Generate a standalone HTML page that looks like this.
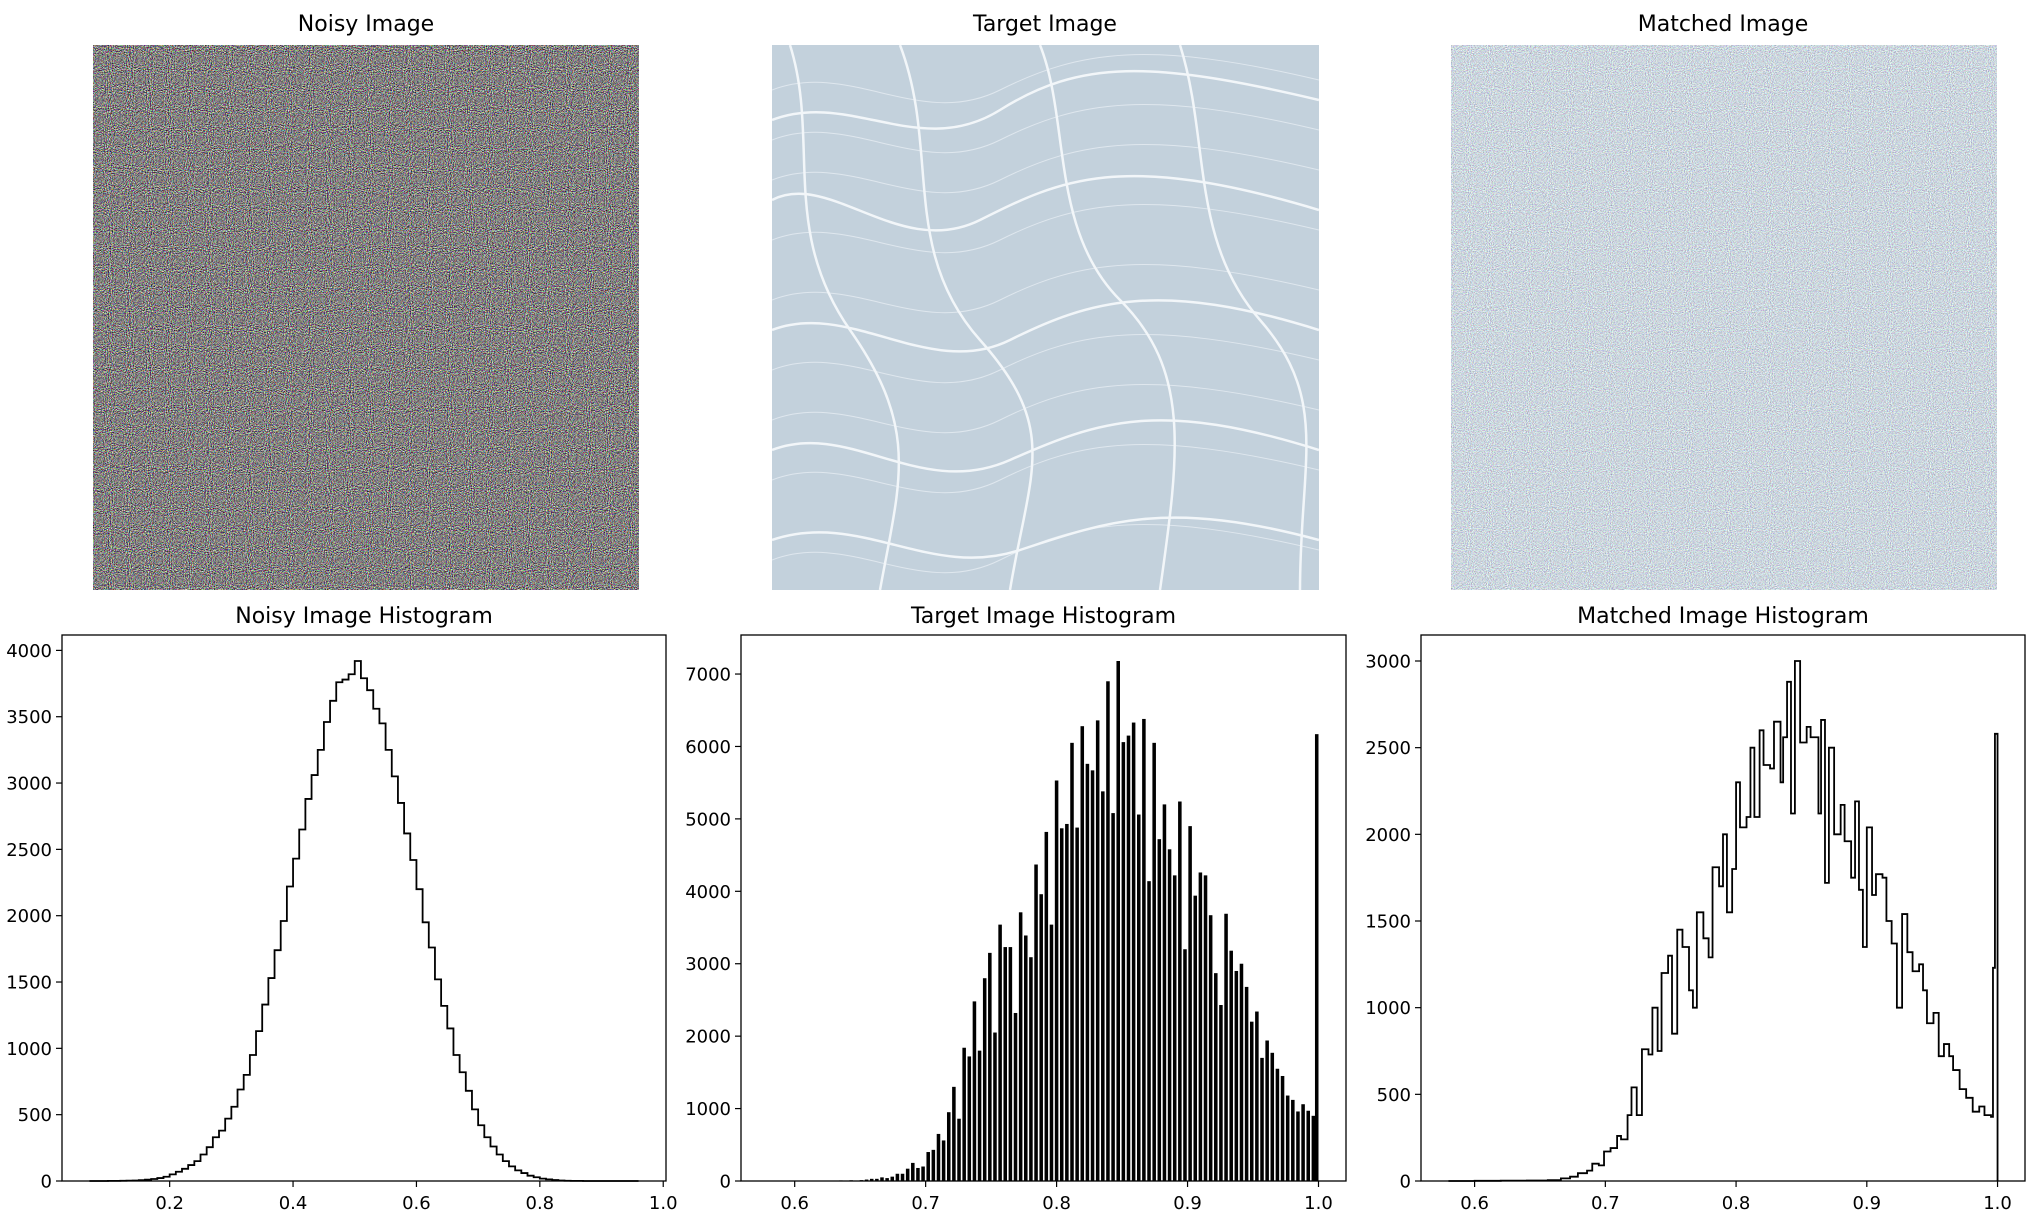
<!DOCTYPE html>
<html><head><meta charset="utf-8">
<style>
html,body{margin:0;padding:0;background:#fff;}
svg{display:block;font-family:"DejaVu Sans","Liberation Sans",sans-serif;}
</style></head>
<body>
<svg id="fig" width="2029" height="1222" viewBox="0 0 2029 1222" xmlns="http://www.w3.org/2000/svg">
<defs>
<filter id="noiseA" x="0" y="0" width="100%" height="100%" color-interpolation-filters="sRGB">
  <feTurbulence type="fractalNoise" baseFrequency="0.95" numOctaves="1" seed="3"/>
  <feColorMatrix type="saturate" values="0.6"/>
  <feComponentTransfer>
    <feFuncR type="linear" slope="2.4" intercept="-0.69"/>
    <feFuncG type="linear" slope="2.4" intercept="-0.70"/>
    <feFuncB type="linear" slope="2.4" intercept="-0.70"/>
    <feFuncA type="linear" slope="0" intercept="1"/>
  </feComponentTransfer>
</filter>
<filter id="noiseB" x="0" y="0" width="100%" height="100%" color-interpolation-filters="sRGB">
  <feTurbulence type="fractalNoise" baseFrequency="0.95" numOctaves="1" seed="7"/>
  <feColorMatrix type="saturate" values="0.5"/>
  <feComponentTransfer>
    <feFuncR type="linear" slope="1.0" intercept="0.30"/>
    <feFuncG type="linear" slope="1.0" intercept="0.34"/>
    <feFuncB type="linear" slope="1.0" intercept="0.37"/>
    <feFuncA type="linear" slope="0" intercept="1"/>
  </feComponentTransfer>
</filter>
<clipPath id="tclip"><rect x="772" y="45" width="547" height="545"/></clipPath>
</defs>

<text x="366" y="31" font-size="22" text-anchor="middle">Noisy Image</text>
<text x="1045" y="31" font-size="22" text-anchor="middle">Target Image</text>
<text x="1723" y="31" font-size="22" text-anchor="middle">Matched Image</text>

<rect x="93" y="45" width="546" height="545" filter="url(#noiseA)"/>
<g clip-path="url(#tclip)">
  <rect x="772" y="45" width="547" height="545" fill="#c3d1dc"/>
  <g fill="none" stroke="#dfe7ee" stroke-width="1">
    <path d="M772 90 C850 60 920 130 1000 90 S1150 40 1319 80"/>
    <path d="M772 140 C850 110 920 180 1000 140 S1150 90 1319 130"/>
    <path d="M772 240 C850 210 920 280 1000 240 S1150 190 1319 230"/>
    <path d="M772 300 C850 270 920 340 1000 300 S1150 250 1319 290"/>
    <path d="M772 370 C850 340 920 410 1000 370 S1150 320 1319 360"/>
    <path d="M772 420 C850 390 920 460 1000 420 S1150 370 1319 410"/>
    <path d="M772 480 C850 450 920 520 1000 480 S1150 430 1319 470"/>
    <path d="M772 560 C850 530 920 600 1000 560 S1150 510 1319 550"/>
    <path d="M772 180 C850 150 920 220 1000 180 S1150 130 1319 170"/>
  </g>
  <g fill="none" stroke="#f2f6f9" stroke-width="2.5">
    <path d="M772 120 C850 90 920 160 1000 110 S1150 60 1319 100"/>
    <path d="M772 200 C830 170 900 260 980 220 S1120 150 1319 210"/>
    <path d="M790 45 C820 140 780 230 850 330 S900 480 880 590"/>
    <path d="M900 45 C940 150 900 250 980 340 S1030 470 1010 590"/>
    <path d="M1040 45 C1070 120 1050 230 1120 300 S1180 450 1160 590"/>
    <path d="M1180 45 C1210 140 1190 240 1260 320 S1300 460 1300 590"/>
    <path d="M772 330 C850 300 930 380 1010 340 S1160 280 1319 330"/>
    <path d="M772 450 C850 420 920 500 1010 460 S1160 400 1319 450"/>
    <path d="M772 540 C860 510 930 580 1020 550 S1170 500 1319 540"/>
  </g>
</g>
<rect x="1451" y="45" width="546" height="545" filter="url(#noiseB)"/>

<g id="charts"></g>
</svg>
<script>
// ---- Noisy histogram data (bin left edges, width 0.01) ----
const noisyEdges = [0.07,0.08,0.09,0.10,0.11,0.12,0.13,0.14,0.15,0.16,0.17,0.18,0.19,0.20,0.21,0.22,0.23,0.24,0.25,0.26,0.27,0.28,0.29,0.30,0.31,0.32,0.33,0.34,0.35,0.36,0.37,0.38,0.39,0.40,0.41,0.42,0.43,0.44,0.45,0.46,0.47,0.48,0.49,0.50,0.51,0.52,0.53,0.54,0.55,0.56,0.57,0.58,0.59,0.60,0.61,0.62,0.63,0.64,0.65,0.66,0.67,0.68,0.69,0.70,0.71,0.72,0.73,0.74,0.75,0.76,0.77,0.78,0.79,0.80,0.81,0.82,0.83,0.84,0.85,0.86,0.87,0.88,0.89,0.90,0.91,0.92,0.93,0.94,0.95];
const noisyCounts = [0,0,0,1,1,2,3,4,6,10,15,22,32,50,70,92,120,150,200,255,330,380,470,560,690,800,950,1130,1330,1530,1740,1960,2220,2430,2650,2880,3060,3250,3460,3620,3760,3780,3820,3920,3790,3700,3560,3450,3250,3050,2850,2620,2420,2200,1950,1760,1520,1320,1150,950,820,680,540,420,330,260,200,150,110,80,60,40,28,18,12,7,4,2,1,1,0,0,0,0,0,0,0,0,0];
const noisyEnd = 0.96;
const noisyXTicks = [0.2,0.4,0.6,0.8,1.0];
const noisyYTicks = [0,500,1000,1500,2000,2500,3000,3500,4000];

// ---- Target histogram data: pixel level k/255 and counts ----
const targetLevels = [148,150,152,155,158,160,162,164,166,167,168,169,170,171,172,173,174,175,176,177,178,179,180,181,182,183,184,185,186,187,188,189,190,191,192,193,194,195,196,197,198,199,200,201,202,203,204,205,206,207,208,209,210,211,212,213,214,215,216,217,218,219,220,221,222,223,224,225,226,227,228,229,230,231,232,233,234,235,236,237,238,239,240,241,242,243,244,245,246,247,248,249,250,251,252,253,254,255];
const targetCounts = [3,2,3,4,5,6,8,10,12,20,30,30,50,40,60,100,100,170,250,180,200,400,430,650,560,950,1300,860,1840,1720,2480,1800,2800,3150,2050,3540,3230,3230,2320,3710,3390,3090,4370,3960,4820,3540,5530,4870,4930,6050,4880,6280,5760,5670,6360,5380,6900,5080,7180,6060,6150,6330,5060,6380,4140,6050,4720,5200,4580,4220,5240,3200,4900,3940,4260,4220,3670,2870,2430,3690,3180,2900,3000,2680,2200,2340,1700,1940,1770,1550,1450,1180,1120,960,1060,970,900,6170];
const targetXTicks = [0.6,0.7,0.8,0.9,1.0];
const targetYTicks = [0,1000,2000,3000,4000,5000,6000,7000];

// ---- Matched histogram data (bin left edges and counts) ----
const matchedEdges = [0.58,0.60,0.62,0.64,0.656,0.666,0.673,0.679,0.686,0.69,0.695,0.699,0.704,0.709,0.712,0.717,0.72,0.724,0.728,0.733,0.736,0.74,0.743,0.748,0.751,0.755,0.759,0.764,0.767,0.77,0.775,0.779,0.782,0.787,0.79,0.793,0.797,0.8,0.803,0.808,0.811,0.814,0.818,0.821,0.826,0.829,0.834,0.836,0.839,0.842,0.845,0.849,0.854,0.857,0.863,0.865,0.868,0.871,0.875,0.88,0.883,0.888,0.891,0.894,0.897,0.9,0.904,0.907,0.912,0.915,0.919,0.923,0.927,0.931,0.935,0.94,0.943,0.946,0.951,0.955,0.959,0.963,0.966,0.971,0.976,0.981,0.986,0.99,0.995,0.9965,0.998];
const matchedCounts = [0,1,2,3,5,15,25,45,60,100,90,170,190,260,240,380,540,380,760,730,1000,750,1200,1300,850,1450,1350,1100,1000,1550,1400,1290,1810,1700,2000,1550,1800,2300,2040,2100,2500,2100,2600,2400,2380,2650,2300,2560,2880,2120,3000,2530,2620,2560,2120,2660,1720,2500,2000,2170,1960,1750,2190,1680,1350,2040,1650,1770,1750,1500,1370,1000,1540,1320,1210,1250,1100,910,970,720,790,720,640,530,480,400,430,380,370,1230,2580];
const matchedEnd = 1.0;
const matchedXTicks = [0.6,0.7,0.8,0.9,1.0];
const matchedYTicks = [0,500,1000,1500,2000,2500,3000];

const NS = "http://www.w3.org/2000/svg";
const root = document.getElementById('charts');
function mk(tag, attrs, parent){
  const e = document.createElementNS(NS, tag);
  for (const k in attrs) e.setAttribute(k, attrs[k]);
  (parent||root).appendChild(e);
  return e;
}
function fmt(v){ return v.toFixed(1); }

function makeAxes(box, xmin, xmax, ymax, xTicks, yTicks, title, key){
  const g = mk('g', {});
  
  
  const sx = v => box.l + (v - xmin) / (xmax - xmin) * (box.r - box.l);
  const sy = v => box.b - v / ymax * (box.b - box.t);
  const t = mk('text', {x:(box.l+box.r)/2, y:box.t-12, 'font-size':22, 'text-anchor':'middle'}, g);
  t.textContent = title;
  
  
  const xg = mk('g', {}, g);
  
  
  xTicks.forEach(v => {
    const x = sx(v);
    mk('line', {x1:x, x2:x, y1:box.b, y2:box.b+6, stroke:'#000', 'stroke-width':1.2}, xg);
    const tx = mk('text', {x:x, y:box.b+28, 'font-size':18, 'text-anchor':'middle'}, xg);
    tx.textContent = fmt(v);
    
    
  });
  const yg = mk('g', {}, g);
  
  
  yTicks.forEach(v => {
    const y = sy(v);
    mk('line', {x1:box.l-6, x2:box.l, y1:y, y2:y, stroke:'#000', 'stroke-width':1.2}, yg);
    const ty = mk('text', {x:box.l-10, y:y+6.5, 'font-size':18, 'text-anchor':'end'}, yg);
    ty.textContent = String(v);
    
    
  });
  const marks = mk('g', {}, g);
  
  
  const frame = mk('rect', {x:box.l, y:box.t, width:box.r-box.l, height:box.b-box.t, fill:'none', stroke:'#000', 'stroke-width':1.3}, g);
  
  
  return {sx, sy, marks};
}

function stepPath(ax, edges, counts, end){
  let d = '';
  for (let i = 0; i < counts.length; i++){
    const x0 = ax.sx(edges[i]);
    const x1 = ax.sx(i+1 < edges.length ? edges[i+1] : end);
    const y = ax.sy(counts[i]);
    d += (i === 0 ? 'M' + x0 + ' ' + ax.sy(0) + ' L' + x0 + ' ' + y : ' L' + x0 + ' ' + y) + ' L' + x1 + ' ' + y;
  }
  d += ' L' + ax.sx(end) + ' ' + ax.sy(0);
  const p = mk('path', {d:d, fill:'none', stroke:'#000', 'stroke-width':1.8, 'stroke-linejoin':'miter'}, ax.marks);
  
  
}

// Noisy
const nMax = Math.max(...noisyCounts) * 1.05;
const nMin = noisyEdges[0], nEnd = noisyEnd, nPad = (nEnd - nMin) * 0.05;
const ax1 = makeAxes({l:62, r:666, t:635, b:1181}, nMin - nPad, nEnd + nPad, nMax, noisyXTicks, noisyYTicks, 'Noisy Image Histogram', 'noisy');
stepPath(ax1, noisyEdges, noisyCounts, noisyEnd);

// Target
const tMax = Math.max(...targetCounts) * 1.05;
const tLo = 0.58, tHi = 1.0, tPad = (tHi - tLo) * 0.05;
const ax2 = makeAxes({l:741, r:1346, t:635, b:1181}, tLo - tPad, tHi + tPad, tMax, targetXTicks, targetYTicks, 'Target Image Histogram', 'target');
const bw = 0.0027;
targetLevels.forEach((k, i) => {
  const v = k / 255;
  const left = Math.min(v - bw/2, tHi - bw);
  const x0 = ax2.sx(left);
  const x1 = ax2.sx(left + bw);
  const y = ax2.sy(targetCounts[i]);
  const r = mk('rect', {x:x0, y:y, width:x1-x0, height:ax2.sy(0)-y, fill:'#000'}, ax2.marks);
  
  
});

// Matched
const mMax = Math.max(...matchedCounts) * 1.05;
const mLo = 0.58, mHi = matchedEnd, mPad = (mHi - mLo) * 0.05;
const ax3 = makeAxes({l:1421, r:2025, t:635, b:1181}, mLo - mPad, mHi + mPad, mMax, matchedXTicks, matchedYTicks, 'Matched Image Histogram', 'matched');
stepPath(ax3, matchedEdges, matchedCounts, matchedEnd);
</script>
</body></html>
